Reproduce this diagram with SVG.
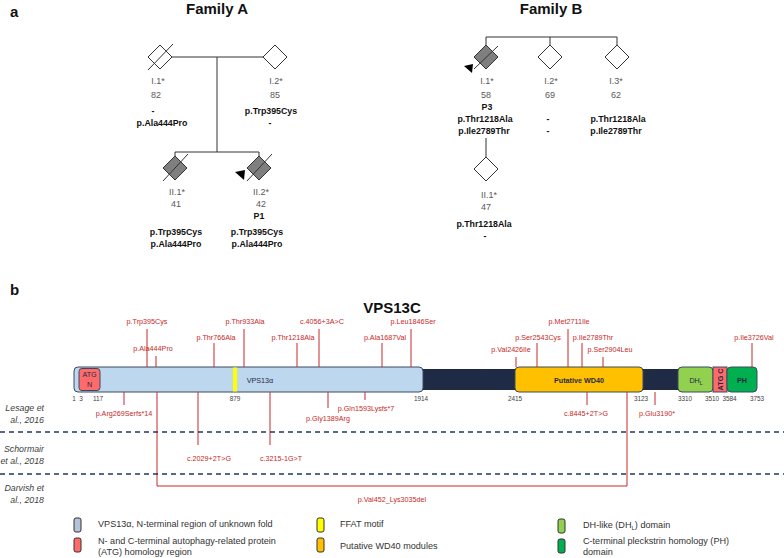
<svg xmlns="http://www.w3.org/2000/svg" width="784" height="558" viewBox="0 0 784 558">
<style>
text{font-family:"Liberation Sans",Arial,sans-serif}
.ttl{font-size:15px;font-weight:bold;fill:#111}
.lab{font-size:9px;fill:#595959;text-anchor:middle}
.mut{font-size:8.8px;font-weight:bold;fill:#111;text-anchor:middle}
.ped{stroke:#333;stroke-width:1;fill:none}
.dia{stroke:#333;stroke-width:1;fill:#fff}
.aff{stroke:#333;stroke-width:1;fill:#7f7f7f}
.red{stroke:#C62828;stroke-width:1;fill:none}
.rt{font-size:7.2px;fill:#C62828;text-anchor:middle}
.num{font-size:6.4px;fill:#404040;text-anchor:middle}
.dom{stroke:#3B4A5E;stroke-width:1}
.dt{font-size:7.2px;fill:#1F2A44;text-anchor:middle}
.row{font-size:8.8px;font-style:italic;fill:#404040;text-anchor:end}
.dash{stroke:#1F3864;stroke-width:1.3;stroke-dasharray:5,4}
.leg{font-size:9.1px;fill:#333}
.lb{stroke:#333;stroke-width:1}
</style>
<defs>
<polygon id="dm" points="0,-12 12,0 0,12 -12,0"/>
</defs>

<text x="10" y="17" class="ttl">a</text>
<text x="217" y="14" class="ttl" text-anchor="middle">Family A</text>
<text x="551" y="14" class="ttl" text-anchor="middle">Family B</text>

<g id="pedigree-lines">
<line class="ped" x1="172" y1="57" x2="263" y2="57"/>
<line class="ped" x1="217" y1="57" x2="217" y2="152"/>
<line class="ped" x1="175" y1="152" x2="259" y2="152"/>
<line class="ped" x1="175" y1="152" x2="175" y2="156"/>
<line class="ped" x1="259" y1="152" x2="259" y2="156"/>
<line class="ped" x1="486" y1="37" x2="617" y2="37"/>
<line class="ped" x1="486" y1="37" x2="486" y2="45"/>
<line class="ped" x1="550" y1="37" x2="550" y2="45"/>
<line class="ped" x1="617" y1="37" x2="617" y2="45"/>
<line class="ped" x1="486" y1="138" x2="486" y2="157"/>
</g>

<g id="A-I1">
<use href="#dm" x="160" y="57" class="dia"/>
<line class="ped" x1="148" y1="70" x2="173" y2="44"/>
<text x="158" y="84" class="lab">I.1*</text>
<text x="156" y="98" class="lab">82</text>
<text x="153" y="114" class="mut">-</text>
<text x="162" y="126" class="mut">p.Ala444Pro</text>
</g>
<g id="A-I2">
<use href="#dm" x="275" y="57" class="dia"/>
<text x="276" y="84" class="lab">I.2*</text>
<text x="275" y="98" class="lab">85</text>
<text x="271" y="114" class="mut">p.Trp395Cys</text>
<text x="270" y="126" class="mut">-</text>
</g>
<g id="A-II1">
<use href="#dm" x="175" y="168" class="aff"/>
<line class="ped" x1="163" y1="181" x2="188" y2="154"/>
<text x="177" y="195" class="lab">II.1*</text>
<text x="176" y="207" class="lab">41</text>
<text x="176" y="235" class="mut">p.Trp395Cys</text>
<text x="176" y="247" class="mut">p.Ala444Pro</text>
</g>
<g id="A-II2">
<use href="#dm" x="259" y="168" class="aff"/>
<line class="ped" x1="247" y1="181" x2="272" y2="154"/>
<polygon points="235,172 245,170 244,180" fill="#000"/>
<text x="261" y="195" class="lab">II.2*</text>
<text x="261" y="207" class="lab">42</text>
<text x="259" y="219" class="mut">P1</text>
<text x="257" y="235" class="mut">p.Trp395Cys</text>
<text x="257" y="247" class="mut">p.Ala444Pro</text>
</g>

<g id="B-I1">
<use href="#dm" x="486" y="57" class="aff"/>
<line class="ped" x1="474" y1="69" x2="498" y2="46"/>
<polygon points="464,66 473,64 472,73" fill="#000"/>
<text x="487" y="84" class="lab">I.1*</text>
<text x="486" y="98" class="lab">58</text>
<text x="487" y="110" class="mut">P3</text>
<text x="485" y="122" class="mut">p.Thr1218Ala</text>
<text x="484" y="134" class="mut">p.Ile2789Thr</text>
</g>
<g id="B-I2">
<use href="#dm" x="550" y="57" class="dia"/>
<text x="551" y="84" class="lab">I.2*</text>
<text x="550" y="98" class="lab">69</text>
<text x="548" y="122" class="mut">-</text>
<text x="548" y="134" class="mut">-</text>
</g>
<g id="B-I3">
<use href="#dm" x="617" y="57" class="dia"/>
<text x="616" y="84" class="lab">I.3*</text>
<text x="616" y="98" class="lab">62</text>
<text x="618" y="122" class="mut">p.Thr1218Ala</text>
<text x="616" y="134" class="mut">p.Ile2789Thr</text>
</g>
<g id="B-II1">
<use href="#dm" x="486" y="169" class="dia"/>
<text x="489" y="198" class="lab">II.1*</text>
<text x="486" y="210" class="lab">47</text>
<text x="484" y="227" class="mut">p.Thr1218Ala</text>
<text x="485" y="239" class="mut">-</text>
</g>

<text x="10" y="295" class="ttl">b</text>
<text x="392" y="313" class="ttl" text-anchor="middle">VPS13C</text>

<g id="protein">
<rect x="418" y="369" width="264" height="21" fill="#1F2A44"/>
<rect x="74" y="367" width="349" height="25" rx="4" fill="#BDD7EE" class="dom"/>
<rect x="79" y="368.5" width="21" height="22" rx="3" fill="#FF6B6B" class="dom"/>
<text x="89.5" y="377" class="dt" font-size="7px">ATG</text>
<text x="89.5" y="387" class="dt" font-size="7px">N</text>
<rect x="233" y="367.5" width="4" height="24" fill="#FFFF00"/>
<text x="260" y="383" class="dt">VPS13α</text>
<rect x="515" y="367" width="128" height="25" rx="4" fill="#FFC000" class="dom"/>
<text x="579" y="383" class="dt" font-weight="bold">Putative WD40</text>
<rect x="678" y="367" width="35" height="25" rx="4" fill="#92D050" class="dom"/>
<text x="696" y="383" class="dt">DH<tspan font-size="5px" dy="2">L</tspan></text>
<rect x="713" y="367" width="14" height="25" fill="#FF6B6B" class="dom"/>
<text transform="translate(722.5,379.5) rotate(-90)" class="dt" font-size="6.8px" font-weight="bold">ATG C</text>
<rect x="727" y="367" width="30" height="25" rx="4" fill="#00B050" class="dom"/>
<text x="742" y="383" class="dt" font-weight="bold">PH</text>
<text x="74" y="401" class="num">1</text>
<text x="81" y="401" class="num">3</text>
<text x="98" y="401" class="num">117</text>
<text x="235" y="401" class="num">879</text>
<text x="421" y="401" class="num">1914</text>
<text x="515" y="401" class="num">2415</text>
<text x="641" y="401" class="num">3123</text>
<text x="685" y="401" class="num">3310</text>
<text x="712" y="401" class="num">3510</text>
<text x="729.5" y="401" class="num">3584</text>
<text x="757" y="401" class="num">3753</text>
</g>

<g id="mutations">
<line class="red" x1="147" y1="329" x2="147" y2="367"/><text x="147" y="324" class="rt">p.Trp395Cys</text>
<line class="red" x1="156" y1="356" x2="156" y2="367"/><text x="153" y="351" class="rt" text-anchor="start">p.Ala444Pro</text>
<line class="red" x1="214" y1="343" x2="214" y2="367"/><text x="216" y="340" class="rt">p.Thr766Ala</text>
<line class="red" x1="244" y1="329" x2="244" y2="367"/><text x="245" y="324" class="rt">p.Thr933Ala</text>
<line class="red" x1="297" y1="343" x2="297" y2="367"/><text x="293" y="340" class="rt">p.Thr1218Ala</text>
<line class="red" x1="319" y1="329" x2="319" y2="367"/><text x="322" y="324" class="rt">c.4056+3A&gt;C</text>
<line class="red" x1="382" y1="343" x2="382" y2="367"/><text x="385" y="340" class="rt">p.Ala1687Val</text>
<line class="red" x1="411" y1="329" x2="411" y2="367"/><text x="413" y="324" class="rt">p.Leu1846Ser</text>
<line class="red" x1="516" y1="357" x2="516" y2="367"/><text x="511" y="352" class="rt">p.Val2426Ile</text>
<line class="red" x1="537" y1="343" x2="537" y2="367"/><text x="538" y="340" class="rt">p.Ser2543Cys</text>
<line class="red" x1="568" y1="329" x2="568" y2="367"/><text x="569" y="324" class="rt">p.Met2711Ile</text>
<line class="red" x1="582" y1="343" x2="582" y2="367"/><text x="593" y="340" class="rt">p.Ile2789Thr</text>
<line class="red" x1="603" y1="357" x2="603" y2="367"/><text x="610" y="352" class="rt">p.Ser2904Leu</text>
<line class="red" x1="752" y1="343" x2="752" y2="367"/><text x="754" y="340" class="rt">p.Ile3726Val</text>

<line class="red" x1="124" y1="392" x2="124" y2="405"/><text x="124" y="416" class="rt">p.Arg269Serfs*14</text>
<line class="red" x1="198" y1="392" x2="198" y2="445"/><text x="209" y="461" class="rt">c.2029+2T&gt;G</text>
<line class="red" x1="270" y1="392" x2="270" y2="445"/><text x="281" y="461" class="rt">c.3215-1G&gt;T</text>
<line class="red" x1="328" y1="392" x2="328" y2="408"/><text x="328" y="421" class="rt">p.Gly1389Arg</text>
<line class="red" x1="365" y1="392" x2="365" y2="400"/><text x="366" y="411" class="rt">p.Gln1593Lysfs*7</text>
<line class="red" x1="587" y1="392" x2="587" y2="405"/><text x="586" y="416" class="rt">c.8445+2T&gt;G</text>
<line class="red" x1="655" y1="392" x2="655" y2="405"/><text x="657" y="416" class="rt">p.Glu3190*</text>
<polyline class="red" points="157,392 157,486 627,486 627,392"/>
<text x="392" y="502" class="rt">p.Val452_Lys3035del</text>
</g>

<g id="studies">
<line class="dash" x1="0" y1="432" x2="784" y2="432"/>
<line class="dash" x1="0" y1="474" x2="784" y2="474"/>
<text x="44" y="411" class="row">Lesage et</text>
<text x="44" y="423" class="row">al., 2016</text>
<text x="44" y="452" class="row">Schormair</text>
<text x="44" y="464" class="row">et al., 2018</text>
<text x="44" y="491" class="row">Darvish et</text>
<text x="44" y="503" class="row">al., 2018</text>
</g>

<g id="legend">
<rect x="74" y="518" width="7" height="14" rx="2" fill="#B4C3D9" class="lb"/>
<text x="98" y="527" class="leg">VPS13α, N-terminal region of unknown fold</text>
<rect x="74" y="538" width="7" height="14" rx="2" fill="#FF6B6B" class="lb"/>
<text x="98" y="544" class="leg">N- and C-terminal autophagy-related protein</text>
<text x="98" y="555" class="leg">(ATG) homology region</text>
<rect x="317" y="518" width="7" height="14" rx="2" fill="#FFFF00" class="lb"/>
<text x="340" y="527" class="leg">FFAT motif</text>
<rect x="317" y="538" width="7" height="14" rx="2" fill="#FFC000" class="lb"/>
<text x="340" y="549" class="leg">Putative WD40 modules</text>
<rect x="558" y="519" width="7" height="14" rx="2" fill="#92D050" class="lb"/>
<text x="583" y="528" class="leg">DH-like (DH<tspan font-size="6px" dy="2">L</tspan><tspan dy="-2">) domain</tspan></text>
<rect x="558" y="539" width="7" height="14" rx="2" fill="#00B050" class="lb"/>
<text x="583" y="544" class="leg">C-terminal pleckstrin homology (PH)</text>
<text x="583" y="555" class="leg">domain</text>
</g>
</svg>
